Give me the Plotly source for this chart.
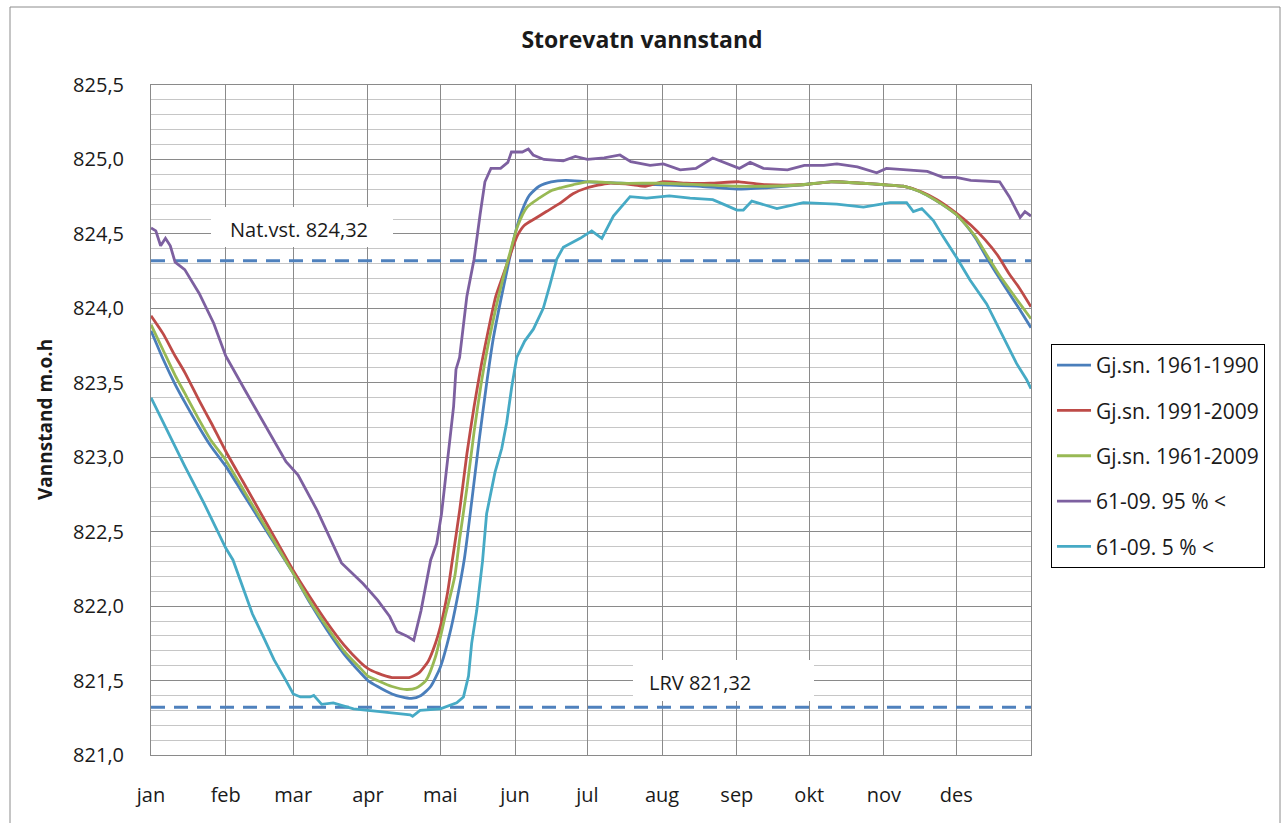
import plotly.graph_objects as go

# ---------------- data ----------------
MONTH_START_DAYS = [0, 31, 59, 90, 120, 151, 181, 212, 243, 273, 304, 334]
MONTH_LABELS = ["jan", "feb", "mar", "apr", "mai", "jun", "jul", "aug", "sep", "okt", "nov", "des"]

NAT_VST = 824.32
LRV = 821.32

DAYS_1961_1990 = [0, 5, 10, 14, 20, 25, 31, 38, 45, 52, 59, 66, 73, 80, 87, 90, 94, 100, 104, 108,
                  112, 116, 120, 124, 127, 130, 133, 136, 139, 142, 145, 148, 151, 154, 157, 161, 166, 172, 181, 195,
                  212, 228, 243, 255, 270, 282, 295, 304, 312, 318, 323, 328, 334, 338, 342, 347, 352, 356, 360, 365]
LEVEL_1961_1990 = [823.85, 823.66, 823.49, 823.37, 823.20, 823.07, 822.94, 822.76, 822.58, 822.40,
                   822.22, 822.02, 821.84, 821.68, 821.55, 821.50, 821.46, 821.41, 821.39, 821.38,
                   821.40, 821.46, 821.59, 821.82, 822.05, 822.32, 822.70, 823.10, 823.47, 823.80,
                   824.05, 824.28, 824.50, 824.66, 824.76, 824.82, 824.85, 824.86, 824.85, 824.84,
                   824.83, 824.82, 824.80, 824.81, 824.83, 824.85, 824.84, 824.83, 824.82, 824.79,
                   824.75, 824.70, 824.63, 824.56, 824.47, 824.33, 824.20, 824.10, 824.00, 823.87]

DAYS_1991_2009 = [0, 5, 10, 14, 20, 25, 31, 38, 45, 52, 59, 66, 73, 80, 87, 90, 94, 100, 104, 107,
                  111, 115, 118, 120, 123, 125, 128, 131, 134, 137, 140, 143, 146, 149, 152, 155, 159, 164, 170, 175,
                  181, 190, 200, 205, 212, 222, 232, 244, 255, 270, 282, 295, 304, 312, 320, 326, 334, 340, 346, 351,
                  356, 360, 365]
LEVEL_1991_2009 = [823.95, 823.83, 823.68, 823.57, 823.38, 823.23, 823.04, 822.84, 822.64, 822.44,
                   822.24, 822.06, 821.89, 821.74, 821.62, 821.58, 821.55, 821.52, 821.52, 821.52,
                   821.55, 821.63, 821.75, 821.86, 822.09, 822.31, 822.64, 823.02, 823.34, 823.62,
                   823.86, 824.08, 824.22, 824.36, 824.49, 824.56, 824.60, 824.65, 824.71, 824.77,
                   824.81, 824.84, 824.83, 824.82, 824.85, 824.84, 824.84, 824.85, 824.83, 824.83,
                   824.85, 824.84, 824.83, 824.82, 824.78, 824.73, 824.64, 824.56, 824.46, 824.36,
                   824.23, 824.14, 824.01]

DAYS_1961_2009 = [0, 5, 10, 14, 20, 25, 31, 38, 45, 52, 59, 66, 73, 80, 87, 90, 94, 100, 106, 110,
                  114, 118, 122, 126, 128, 131, 134, 137, 140, 143, 146, 149, 152, 156, 161, 166, 170, 175, 181, 195,
                  212, 228, 243, 255, 270, 282, 295, 304, 312, 318, 323, 328, 334, 338, 342, 347, 352, 356, 360, 365]
LEVEL_1961_2009 = [823.89, 823.72, 823.55, 823.43, 823.25, 823.11, 822.98, 822.79, 822.60, 822.41,
                   822.22, 822.03, 821.86, 821.70, 821.58, 821.53, 821.50, 821.46, 821.44, 821.45,
                   821.50, 821.66, 821.93, 822.20, 822.45, 822.79, 823.17, 823.50, 823.77, 824.00,
                   824.20, 824.38, 824.55, 824.68, 824.74, 824.79, 824.81, 824.83, 824.85, 824.84,
                   824.84, 824.83, 824.82, 824.82, 824.83, 824.85, 824.84, 824.83, 824.82, 824.79,
                   824.75, 824.70, 824.63, 824.56, 824.48, 824.35, 824.22, 824.13, 824.04, 823.93]

DAYS_P95 = [0, 2, 4, 6, 8, 10, 14, 20, 26, 31, 39, 47, 56, 61, 69, 79, 88, 94, 99, 102,
            106, 109, 112, 116, 118.5, 120.5, 122.5, 125.5, 126.5, 128, 131, 134, 136.5, 138.5, 141, 145, 148, 149.5, 154, 156.5,
            158.5, 163, 171, 176, 181, 188, 194.5, 199, 207, 212.5, 219.5, 226, 233, 239, 244, 248.5, 254, 264, 271, 279,
            284.5, 293, 301, 305, 312, 322, 328.5, 334, 340, 345, 352, 356, 360.5, 362.5, 365]
LEVEL_P95 = [824.54, 824.52, 824.42, 824.47, 824.42, 824.31, 824.26, 824.10, 823.90, 823.68,
             823.45, 823.22, 822.97, 822.88, 822.64, 822.29, 822.15, 822.04, 821.93, 821.83,
             821.80, 821.77, 821.97, 822.31, 822.42, 822.62, 822.92, 823.34, 823.59, 823.67,
             824.08, 824.33, 824.63, 824.85, 824.94, 824.94, 824.98, 825.05, 825.05, 825.07,
             825.03, 825.00, 824.99, 825.02, 825.00, 825.01, 825.03, 824.985, 824.96, 824.97,
             824.93, 824.94, 825.01, 824.97, 824.94, 824.98, 824.94, 824.93, 824.96, 824.96,
             824.97, 824.95, 824.91, 824.94, 824.93, 824.92, 824.88, 824.88, 824.86, 824.855,
             824.85, 824.75, 824.61, 824.65, 824.62]

DAYS_P05 = [0, 6, 14, 22, 31, 34, 38, 42, 47, 51, 56, 59, 62, 66, 67.5, 70.8, 75.6, 84, 96, 102,
            107.5, 108.5, 111.6, 120, 126.8, 129.6, 131.7, 133, 135.1, 137.5, 139.2, 142.7, 145.5, 147.5, 149.6, 151.7, 155, 158.6, 162.7, 165.5,
            168.3, 171, 178, 182.8, 187, 191.8, 198.7, 205.6, 215, 223.6, 233, 238.8, 243, 245.7, 249.2, 259.6, 270.6, 284.4, 295.5, 306.5,
            313.4, 316.2, 319.7, 324.5, 328.6, 334.2, 339.7, 346.6, 353.5, 359, 363.2, 365]
LEVEL_P05 = [823.40, 823.20, 822.94, 822.69, 822.39, 822.31, 822.13, 821.95, 821.78, 821.64,
             821.50, 821.41, 821.39, 821.39, 821.40, 821.34, 821.35, 821.31, 821.29, 821.28,
             821.27, 821.26, 821.30, 821.31, 821.35, 821.39, 821.53, 821.75, 821.97, 822.30,
             822.62, 822.90, 823.06, 823.23, 823.47, 823.67, 823.78, 823.86, 824.00, 824.16,
             824.33, 824.41, 824.47, 824.52, 824.47, 824.62, 824.75, 824.74, 824.755, 824.74,
             824.73, 824.69, 824.66, 824.66, 824.72, 824.67, 824.71, 824.70, 824.68, 824.71,
             824.71, 824.65, 824.67, 824.59, 824.48, 824.34, 824.19, 824.03, 823.81, 823.63,
             823.52, 823.46]

SERIES = [
    ("Gj.sn. 1961-1990", DAYS_1961_1990, LEVEL_1961_1990, "#4A7EBB", "spline"),
    ("Gj.sn. 1991-2009", DAYS_1991_2009, LEVEL_1991_2009, "#BE4B48", "spline"),
    ("Gj.sn. 1961-2009", DAYS_1961_2009, LEVEL_1961_2009, "#98B954", "spline"),
    ("61-09. 95 % <", DAYS_P95, LEVEL_P95, "#7D60A0", "linear"),
    ("61-09. 5 % <", DAYS_P05, LEVEL_P05, "#46AAC5", "linear"),
]

FONT = "Open Sans"
TEXT = "#1a1a1a"
GRID_MAJOR = "#8a8a8a"
GRID_MINOR = "#c6c6c6"

# pixel geometry of the plot area
L, R, T, B = 151, 1031, 85, 755
W, H = 1284, 823

fig = go.Figure()

# reference lines (drawn first, below series)
for yv in (NAT_VST, LRV):
    fig.add_trace(go.Scatter(x=[0, 365], y=[yv, yv], mode="lines", showlegend=False, hoverinfo="skip",
                             line=dict(color="#4F81BD", width=3, dash="14px,9px")))

for i, (name, xs, ys, col, shape) in enumerate(SERIES):
    line = dict(color=col, width=2.8, shape=shape)
    if shape == "spline":
        line["smoothing"] = 0.6
    fig.add_trace(go.Scatter(x=xs, y=ys, mode="lines", name=name, legendgroup=f"g{i}", line=line))

def px_to_day(px):
    return (px - L) / (R - L) * 365

def py_to_val(py):
    return 825.5 - (py - T) / (B - T) * 4.5

shapes = [
    # white label boxes
    dict(type="rect", layer="between", xref="x", yref="y",
         x0=px_to_day(211), x1=px_to_day(393), y0=py_to_val(247), y1=py_to_val(207),
         fillcolor="white", line=dict(width=0)),
    dict(type="rect", layer="between", xref="x", yref="y",
         x0=px_to_day(633), x1=px_to_day(814), y0=py_to_val(701), y1=py_to_val(660),
         fillcolor="white", line=dict(width=0)),
    # outer chart border
    dict(type="rect", xref="paper", yref="paper",
         x0=(10 - L) / (R - L), x1=(1280 - L) / (R - L),
         y0=(B - 840) / (B - T), y1=(B - 7) / (B - T),
         line=dict(color="#8c8c8c", width=1), fillcolor="rgba(0,0,0,0)"),
]

annotations = [
    dict(x=px_to_day(299), y=py_to_val(229), xref="x", yref="y", text="Nat.vst. 824,32",
         showarrow=False, font=dict(family=FONT, size=20, color=TEXT)),
    dict(x=px_to_day(700), y=py_to_val(682), xref="x", yref="y", text="LRV 821,32",
         showarrow=False, font=dict(family=FONT, size=20, color=TEXT)),
    dict(x=(45 - L) / (R - L), y=0.5, xref="paper", yref="paper", text="<b>Vannstand m.o.h</b>",
         textangle=-90, showarrow=False, xanchor="center", yanchor="middle",
         font=dict(family=FONT, size=19, color=TEXT)),
]

fig.update_layout(
    width=W, height=H, autosize=False,
    margin=dict(l=L, r=W - R, t=T, b=H - B),
    paper_bgcolor="white", plot_bgcolor="white",
    separators=", ",
    font=dict(family=FONT, color=TEXT, size=20),
    title=dict(text="<b>Storevatn vannstand</b>", x=0.5, xref="container", xanchor="center",
               y=1 - 40 / H, yref="container", yanchor="middle",
               font=dict(family=FONT, size=23, color=TEXT)),
    showlegend=True,
    legend=dict(x=(1051 - L) / (R - L), y=(B - 344) / (B - T), xanchor="left", yanchor="top",
                bgcolor="white", bordercolor="#000000", borderwidth=1,
                font=dict(family=FONT, size=21, color=TEXT), tracegroupgap=15,
                itemwidth=34),
    shapes=shapes,
    annotations=annotations,
)

fig.update_xaxes(range=[0, 365], tickmode="array", tickvals=MONTH_START_DAYS, ticktext=MONTH_LABELS,
                 showgrid=True, gridcolor=GRID_MAJOR, gridwidth=1, zeroline=False,
                 showline=True, linecolor=GRID_MAJOR, linewidth=1, mirror=True,
                 ticks="", ticklabelstandoff=22, tickfont=dict(family=FONT, size=20, color=TEXT))
fig.update_yaxes(range=[821.0, 825.5], tick0=821.0, dtick=0.5, tickformat=".1f",
                 showgrid=True, gridcolor=GRID_MAJOR, gridwidth=1, zeroline=False,
                 showline=True, linecolor=GRID_MAJOR, linewidth=1, mirror=True,
                 minor=dict(tick0=821.0, dtick=0.1, showgrid=True, gridcolor=GRID_MINOR, gridwidth=1),
                 ticks="", ticklabelstandoff=22, tickfont=dict(family=FONT, size=20, color=TEXT))

fig.write_html("out.html", config={"displayModeBar": False},
               post_script="document.body.style.margin='0';")
